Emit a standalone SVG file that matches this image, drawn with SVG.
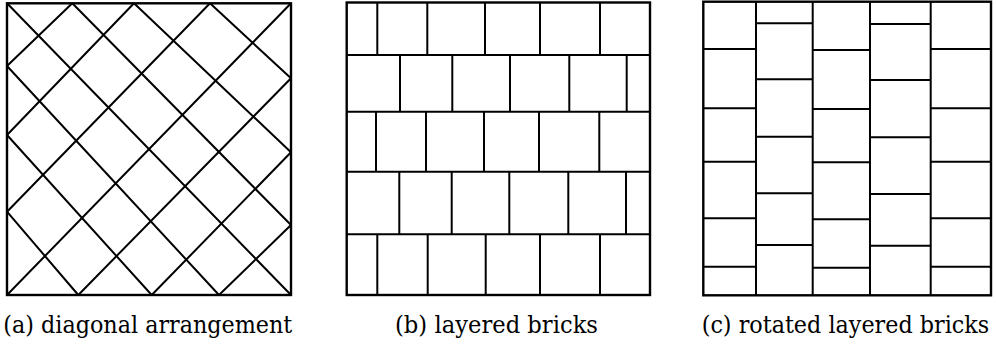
<svg xmlns="http://www.w3.org/2000/svg" width="997" height="345" viewBox="0 0 997 345">
<style>
.frame{fill:none;stroke:#000;stroke-width:2.4}
.ln{stroke:#000;stroke-width:2;stroke-linecap:butt;fill:none}
</style>
<rect width="997" height="345" fill="#fff"/>
<g id="panel-a">
<rect class="frame" x="7" y="3.3" width="284" height="291.7"/>
<path class="ln" d="M7,3.3L291,295M72.3,3.3L291,225M134,3.3L291,152.3M210,3.3L291,78.3M7,66L219,295M7,135L151.7,295M7,211.7L78.3,295"/>
<path class="ln" d="M72.3,3.3L7,66M134,3.3L7,135M210,3.3L7,211.7M291,3.3L7,295M291,78.3L78.3,295M291,152.3L151.7,295M291,225L219,295"/>
</g>
<g id="panel-b">
<rect class="frame" x="346.7" y="2.5" width="303.3" height="292.5"/>
<path class="ln" d="M346.7,55H650M346.7,111.7H650M346.7,171.7H650M346.7,234.3H650"/>
<path class="ln" d="M377.3,2.5V55M427.3,2.5V55M485,2.5V55M540,2.5V55M600,2.5V55"/>
<path class="ln" d="M400,55V111.7M452.3,55V111.7M510,55V111.7M569.3,55V111.7M626.7,55V111.7"/>
<path class="ln" d="M376,111.7V171.7M426,111.7V171.7M484,111.7V171.7M539,111.7V171.7M599.3,111.7V171.7"/>
<path class="ln" d="M399.3,171.7V234.3M451.7,171.7V234.3M509.3,171.7V234.3M568.3,171.7V234.3M626,171.7V234.3"/>
<path class="ln" d="M377.3,234.3V295M427.7,234.3V295M485.7,234.3V295M540,234.3V295M600,234.3V295"/>
</g>
<g id="panel-c">
<rect class="frame" x="703.3" y="1.7" width="287.7" height="293.6"/>
<path class="ln" d="M756,1.7V295.3M812.7,1.7V295.3M870,1.7V295.3M930.7,1.7V295.3"/>
<path class="ln" d="M703.3,49H756M703.3,108.3H756M703.3,161.7H756M703.3,218.3H756M703.3,266.7H756"/>
<path class="ln" d="M756,23.3H812.7M756,79.3H812.7M756,136.7H812.7M756,193.3H812.7M756,245H812.7"/>
<path class="ln" d="M812.7,50H870M812.7,109H870M812.7,162.3H870M812.7,219.3H870M812.7,267.7H870"/>
<path class="ln" d="M870,24H930.7M870,80H930.7M870,137.3H930.7M870,194H930.7M870,245.7H930.7"/>
<path class="ln" d="M930.7,49H991M930.7,108.3H991M930.7,161.7H991M930.7,218.3H991M930.7,266.7H991"/>
</g>
<g id="captions" font-family="DejaVu Serif, serif" font-size="24" fill="#000">
<text x="3.3" y="333" textLength="289" lengthAdjust="spacingAndGlyphs">(a) diagonal arrangement</text>
<text x="395" y="333" textLength="203" lengthAdjust="spacingAndGlyphs">(b) layered bricks</text>
<text x="701.7" y="333" textLength="287.5" lengthAdjust="spacingAndGlyphs">(c) rotated layered bricks</text>
</g>
</svg>
